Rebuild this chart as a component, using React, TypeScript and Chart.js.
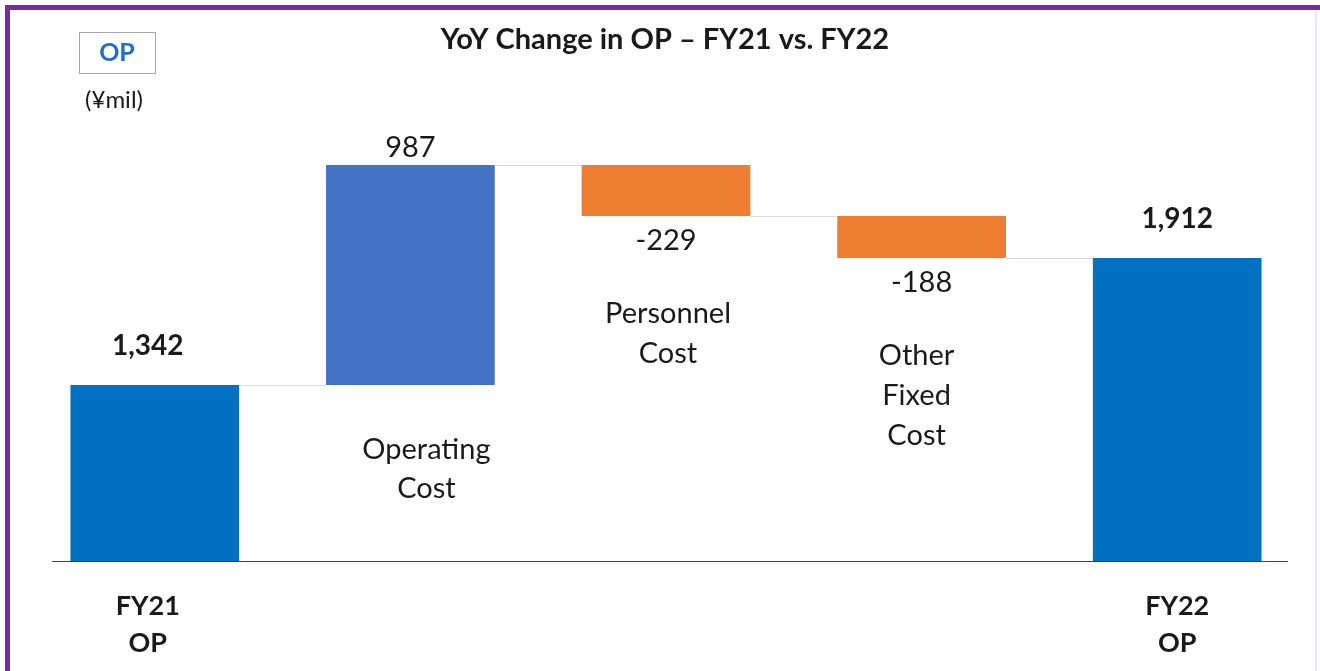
import React, { useEffect, useRef } from "react";
import { Chart, registerables } from "chart.js";

Chart.register(...registerables);

const categories: string[][] = [["FY21", "OP"], ["Operating", "Cost"], ["Personnel", "Cost"], ["Other", "Fixed", "Cost"], ["FY22", "OP"]];
const changes: number[] = [1342, 987, -229, -188, 1912];
const isTotal: boolean[] = [true, false, false, false, true];
const valueLabels: string[] = ["1,342", "987", "-229", "-188", "1,912"];
const barColors: string[] = ["#0070C0", "#4472C4", "#ED7D31", "#ED7D31", "#0070C0"];
const chartTitle = "YoY Change in OP \u2013 FY21 vs. FY22";
const unitLabel = "(\u00A5mil)";
const boxLabel = "OP";

const FONT = "Lato, 'Open Sans', sans-serif";

function buildRanges(): [number, number][] {
  const out: [number, number][] = [];
  let run = 0;
  changes.forEach((c, i) => {
    if (isTotal[i]) {
      out.push([0, c]);
      run = c;
    } else {
      const next = run + c;
      out.push([Math.min(run, next), Math.max(run, next)]);
      run = next;
    }
  });
  return out;
}

export default function App() {
  const ref = useRef<HTMLCanvasElement | null>(null);
  useEffect(() => {
    if (!ref.current) return;
    const ranges = buildRanges();
    const decor = {
      id: "decor",
      beforeDraw(chart: any) {
        const ctx = chart.ctx;
        ctx.save();
        ctx.fillStyle = "#ffffff";
        ctx.fillRect(0, 0, chart.width, chart.height);
        ctx.restore();
      },
      afterDatasetsDraw(chart: any) {
        const ctx = chart.ctx;
        const meta = chart.getDatasetMeta(0);
        const ys = chart.scales.y;
        ctx.save();
        // frame
        ctx.fillStyle = "#7030A0";
        ctx.fillRect(5, 5, 1315, 5);
        ctx.fillRect(5, 5, 5, 666);
        ctx.fillStyle = "#ece6f2";
        ctx.fillRect(1315, 10, 2, 661);
        // baseline
        ctx.strokeStyle = "#404040";
        ctx.lineWidth = 1;
        ctx.beginPath();
        ctx.moveTo(52, chart.chartArea.bottom + 0.5);
        ctx.lineTo(1288, chart.chartArea.bottom + 0.5);
        ctx.stroke();
        // connectors
        ctx.strokeStyle = "#d9d9d9";
        let run = 0;
        for (let i = 0; i < changes.length - 1; i++) {
          run = isTotal[i] ? changes[i] : run + changes[i];
          const a = meta.data[i];
          const b = meta.data[i + 1];
          const y = Math.round(ys.getPixelForValue(run)) + 0.5;
          ctx.beginPath();
          ctx.moveTo(a.x + a.width / 2, y);
          ctx.lineTo(b.x - b.width / 2, y);
          ctx.stroke();
        }
        // value labels
        ctx.textAlign = "center";
        ctx.textBaseline = "middle";
        ctx.fillStyle = "#1a1a1a";
        meta.data.forEach((el: any, i: number) => {
          const top = ys.getPixelForValue(ranges[i][1]);
          const bot = ys.getPixelForValue(ranges[i][0]);
          const x = el.x;
          if (isTotal[i]) {
            ctx.font = `bold 28px ${FONT}`;
            ctx.fillText(valueLabels[i], x - (i === 0 ? 7 : 0), top - 39);
            ctx.font = `bold 27px ${FONT}`;
            categories[i].forEach((t, k) => ctx.fillText(t, x - (i === 0 ? 7 : 0), 606 + k * 37));
          } else if (changes[i] >= 0) {
            ctx.font = `29px ${FONT}`;
            ctx.fillText(valueLabels[i], x, top - 17);
            categories[i].forEach((t, k) => ctx.fillText(t, x + 16, bot + 65 + k * 39));
          } else {
            ctx.font = `29px ${FONT}`;
            ctx.fillText(valueLabels[i], x, bot + 25);
            categories[i].forEach((t, k) => ctx.fillText(t, x + 2 - (i === 3 ? 7 : 0), bot + 98 + k * 40));
          }
        });
        // title
        ctx.font = `bold 29px ${FONT}`;
        ctx.fillStyle = "#1a1a1a";
        ctx.fillText(chartTitle, 665, 40);
        // OP box
        ctx.strokeStyle = "#a6a6a6";
        ctx.lineWidth = 1;
        ctx.strokeRect(79.5, 32.5, 76, 41);
        ctx.fillStyle = "#1f6fc5";
        ctx.font = `bold 25px ${FONT}`;
        ctx.fillText(boxLabel, 117, 53);
        ctx.fillStyle = "#1a1a1a";
        ctx.font = `24px ${FONT}`;
        ctx.fillText(unitLabel, 114, 100);
        ctx.restore();
      },
    };
    const chart = new Chart(ref.current, {
      type: "bar",
      data: {
        labels: categories.map((c) => c.join(" ")),
        datasets: [
          {
            data: ranges as any,
            backgroundColor: barColors,
            borderWidth: 0,
            categoryPercentage: 0.66,
            barPercentage: 1,
          },
        ],
      },
      options: {
        animation: false,
        responsive: false,
        layout: { padding: { left: 27, right: 15, top: 100, bottom: 110 } },
        plugins: { legend: { display: false }, tooltip: { enabled: false }, title: { display: false } },
        scales: {
          x: { display: false },
          y: { display: false, min: 552, max: 2621 },
        },
      },
      plugins: [decor],
    });
    return () => chart.destroy();
  }, []);
  return (
    <div style={{ position: "absolute", left: 0, top: 0, width: 1320, height: 671 }}>
      <canvas ref={ref} width={1320} height={671} style={{ display: "block" }} />
    </div>
  );
}
